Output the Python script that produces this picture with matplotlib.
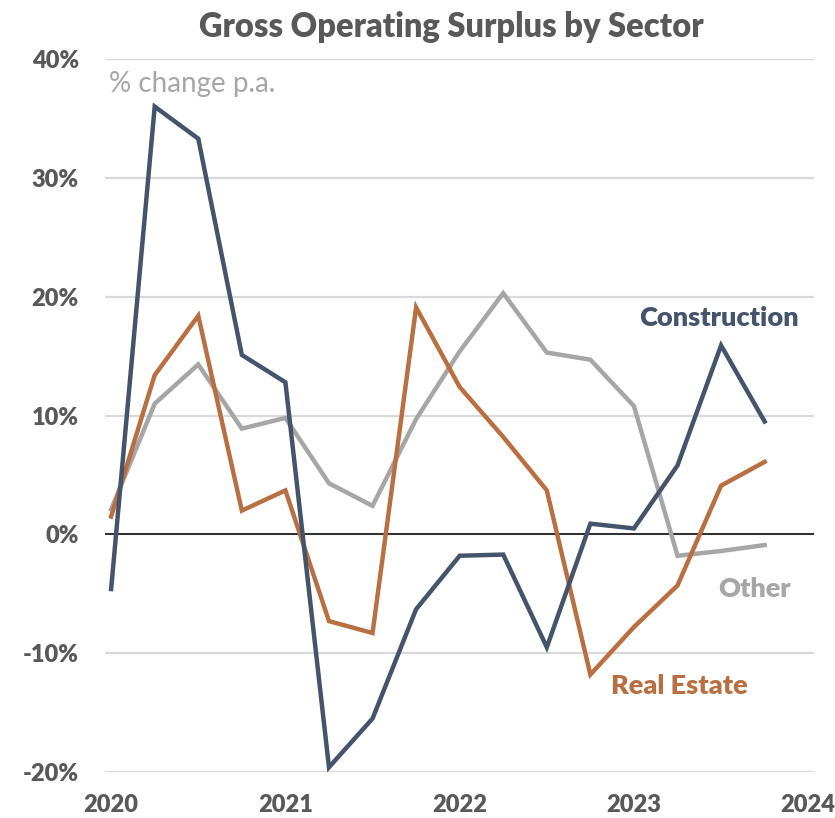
import numpy as np
import matplotlib.pyplot as plt
import matplotlib.ticker as mticker

plt.rcParams['font.family'] = ['Lato', 'DejaVu Sans']

# quarterly, 2020 Q1 .. 2023 Q4 (plotted at start of quarter)
quarters = np.arange(2020, 2024, 0.25)

construction = [-4.6, 36.0, 33.3, 15.1, 12.8, -19.6, -15.5, -6.3,
                -1.8, -1.7, -9.5, 0.9, 0.5, 5.8, 15.9, 9.5]
real_estate = [1.5, 13.4, 18.4, 2.0, 3.7, -7.3, -8.3, 19.1,
               12.4, 8.2, 3.7, -11.8, -7.8, -4.3, 4.1, 6.1]
other = [2.1, 11.0, 14.3, 8.9, 9.8, 4.3, 2.4, 9.7,
         15.4, 20.3, 15.3, 14.7, 10.8, -1.8, -1.4, -0.9]

years = [2020, 2021, 2022, 2023, 2024]
yticks = [-20, -10, 0, 10, 20, 30, 40]

c_con = '#44546A'
c_re = '#B87042'
c_oth = '#A6A6A6'
c_txt = '#595959'

fig = plt.figure(figsize=(8.35, 8.18), dpi=100)
ax = fig.add_axes([0.126, 0.0562, 0.849, 0.8716])

ax.plot(quarters, other, color=c_oth, lw=3.2, solid_joinstyle='miter', zorder=3)
ax.plot(quarters, real_estate, color=c_re, lw=3.2, solid_joinstyle='miter', zorder=4)
ax.plot(quarters, construction, color=c_con, lw=3.2, solid_joinstyle='miter', zorder=5)

ax.axhline(0, color='black', lw=1.1, zorder=2)

ax.set_xlim(2019.966, 2024.034)
ax.set_ylim(-20, 40)
ax.set_yticks(yticks)
ax.set_xticks(years)
ax.yaxis.set_major_formatter(mticker.FuncFormatter(lambda v, p: '%d%%' % v))
ax.grid(axis='y', color='#D9D9D9', lw=1.6, zorder=1)
ax.set_axisbelow(True)
for s in ax.spines.values():
    s.set_visible(False)
ax.tick_params(length=0, labelsize=17, labelcolor=c_txt)
ax.tick_params(axis='y', pad=19)
ax.tick_params(axis='x', pad=16)
for lab in ax.get_xticklabels() + ax.get_yticklabels():
    lab.set_fontweight('heavy')

ax.text(2019.99, 39.0, '% change p.a.', color=c_oth, fontsize=20, va='top', ha='left')
ax.text(2023.49, 18.2, 'Construction', color=c_con, fontsize=19.5, fontweight='heavy', ha='center', va='center')
ax.text(2023.69, -4.6, 'Other', color=c_oth, fontsize=19.5, fontweight='heavy', ha='center', va='center')
ax.text(2023.26, -12.8, 'Real Estate', color=c_re, fontsize=19.5, fontweight='heavy', ha='center', va='center')

fig.text(0.541, 0.967, 'Gross Operating Surplus by Sector', color=c_txt, fontsize=23.5,
         fontweight='heavy', ha='center', va='center')

fig.savefig('out.png', dpi=100)
